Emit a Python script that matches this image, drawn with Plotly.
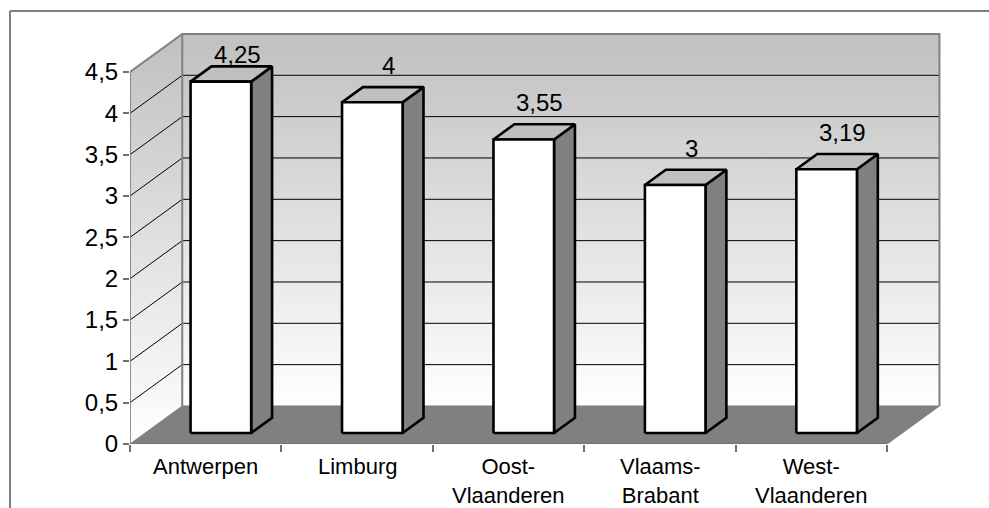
import plotly.graph_objects as go

# ---- data ---------------------------------------------------------------
regions = ["Antwerpen", "Limburg", "Oost-<br>Vlaanderen", "Vlaams-<br>Brabant", "West-<br>Vlaanderen"]
values = [4.25, 4.0, 3.55, 3.0, 3.19]
y_ticks = [0, 0.5, 1, 1.5, 2, 2.5, 3, 3.5, 4, 4.5]

# ---- geometry / style ---------------------------------------------------
W, H = 989, 508
ML, MR, MT, MB = 130, 45, 29, 64
FONT = "Liberation Sans, Arial, sans-serif"

DX, DY = 0.345, 0.46          # depth of the 3-D box (x in categories, y in values)
F0, F1 = 0.29, 0.69           # front / back plane of the bars inside that depth
BAR_W = 0.4
X0, XN = -0.5, len(values) - 0.5
YTOP = y_ticks[-1]
XR = [X0, XN + DX + 0.03]
YR = [0, 5.02]

GRID = "#000000"
EDGE = "#808080"
FLOOR = "#808080"
TOPFACE = "#c0c0c0"
SIDEFACE = "#808080"


def closed(pts):
    xs = [p[0] for p in pts] + [pts[0][0]]
    ys = [p[1] for p in pts] + [pts[0][1]]
    return xs, ys


def many(polys):
    xs, ys = [], []
    for pts in polys:
        a, b = closed(pts)
        xs += a + [None]
        ys += b + [None]
    return xs, ys


fig = go.Figure()

wall_scale = [[0, "#ffffff"], [1, "#c0c0c0"]]

# back wall
bx, by = closed([(X0 + DX, DY), (XN + DX, DY), (XN + DX, YTOP + DY), (X0 + DX, YTOP + DY)])
fig.add_trace(go.Scatter(x=bx, y=by, mode="lines", fill="toself", line=dict(width=0),
                         fillgradient=dict(type="vertical", colorscale=wall_scale,
                                           start=DY, stop=YTOP + DY),
                         hoverinfo="skip"))
# side wall
sx, sy = closed([(X0, 0), (X0 + DX, DY), (X0 + DX, YTOP + DY), (X0, YTOP)])
fig.add_trace(go.Scatter(x=sx, y=sy, mode="lines", fill="toself", line=dict(width=0),
                         fillgradient=dict(type="vertical", colorscale=wall_scale,
                                           start=0, stop=YTOP + DY),
                         hoverinfo="skip"))

# gridlines: across the side wall, then along the back wall
gx, gy = [], []
for v in y_ticks[1:-1]:
    gx += [X0, X0 + DX, XN + DX, None]
    gy += [v, v + DY, v + DY, None]
fig.add_trace(go.Scatter(x=gx, y=gy, mode="lines", line=dict(color=GRID, width=1),
                         hoverinfo="skip"))

# floor
fx, fy = closed([(X0, 0), (X0 + DX, DY), (XN + DX, DY), (XN, 0)])
fig.add_trace(go.Scatter(x=fx, y=fy, mode="lines", fill="toself", fillcolor=FLOOR,
                         line=dict(color=FLOOR, width=1), hoverinfo="skip"))

# wall edges
fig.add_trace(go.Scatter(
    x=[X0, X0 + DX, XN + DX, XN + DX, None, X0 + DX, X0 + DX],
    y=[YTOP, YTOP + DY, YTOP + DY, DY, None, DY, YTOP + DY],
    mode="lines", line=dict(color=EDGE, width=2), hoverinfo="skip"))

# axis lines (value axis and category axis)
fig.add_trace(go.Scatter(x=[X0, X0, None, X0, XN], y=[YTOP, 0, None, 0, 0], mode="lines",
                         line=dict(color="#707070", width=1.5), hoverinfo="skip"))

# bars
fronts, tops, sides = [], [], []
for i, v in enumerate(values):
    xl = i + DX * F0 - BAR_W / 2
    xr = i + DX * F0 + BAR_W / 2
    ddx = DX * (F1 - F0)
    y0f, y0b = DY * F0, DY * F1
    fronts.append([(xl, y0f), (xr, y0f), (xr, v + y0f), (xl, v + y0f)])
    tops.append([(xl, v + y0f), (xr, v + y0f), (xr + ddx, v + y0b), (xl + ddx, v + y0b)])
    sides.append([(xr, y0f), (xr + ddx, y0b), (xr + ddx, v + y0b), (xr, v + y0f)])

for polys, col in ((sides, SIDEFACE), (tops, TOPFACE), (fronts, "#ffffff")):
    px, py = many(polys)
    fig.add_trace(go.Scatter(x=px, y=py, mode="lines", fill="toself", fillcolor=col,
                             line=dict(color="#000000", width=2.6), hoverinfo="skip"))

# value labels
for i, v in enumerate(values):
    ly = min(v + DY * F1 + 0.26, YTOP + DY - 0.25)
    fig.add_annotation(x=i + DX * 0.6, y=ly, text=f"{v:g}".replace(".", ","),
                       showarrow=False, yanchor="middle", xanchor="center",
                       font=dict(family=FONT, size=24, color="#000000"))

# category labels
for i, name in enumerate(regions):
    fig.add_annotation(x=i, y=0, text=name, showarrow=False, yanchor="top",
                       xanchor="center", yshift=-8,
                       font=dict(family=FONT, size=22, color="#000000"))

# outer chart frame
px_l = (10 - ML) / (W - ML - MR)
py_t = (H - MB - 11) / (H - MT - MB)
fig.add_shape(type="line", xref="paper", yref="paper", x0=px_l, x1=px_l, y0=-0.3, y1=py_t,
              line=dict(color="#808080", width=2))
fig.add_shape(type="line", xref="paper", yref="paper", x0=px_l, x1=1.2, y0=py_t, y1=py_t,
              line=dict(color="#808080", width=2))

fig.update_layout(
    width=W, height=H,
    margin=dict(l=ML, r=MR, t=MT, b=MB),
    paper_bgcolor="#ffffff", plot_bgcolor="#ffffff",
    showlegend=False,
    separators=",.",
    font=dict(family=FONT, color="#000000"),
    xaxis=dict(range=XR, showgrid=False, zeroline=False, showline=False,
               tickvals=[X0 + k for k in range(len(values) + 1)],
               ticktext=[""] * (len(values) + 1), ticks="outside", ticklen=7,
               tickwidth=1.5, tickcolor="#707070", fixedrange=True),
    yaxis=dict(range=YR, showgrid=False, zeroline=False, showline=False,
               tickvals=y_ticks, ticks="outside", ticklen=6, tickwidth=1.5,
               tickcolor="#707070", tickfont=dict(size=24, family=FONT),
               fixedrange=True),
)

fig.write_html("out.html")
